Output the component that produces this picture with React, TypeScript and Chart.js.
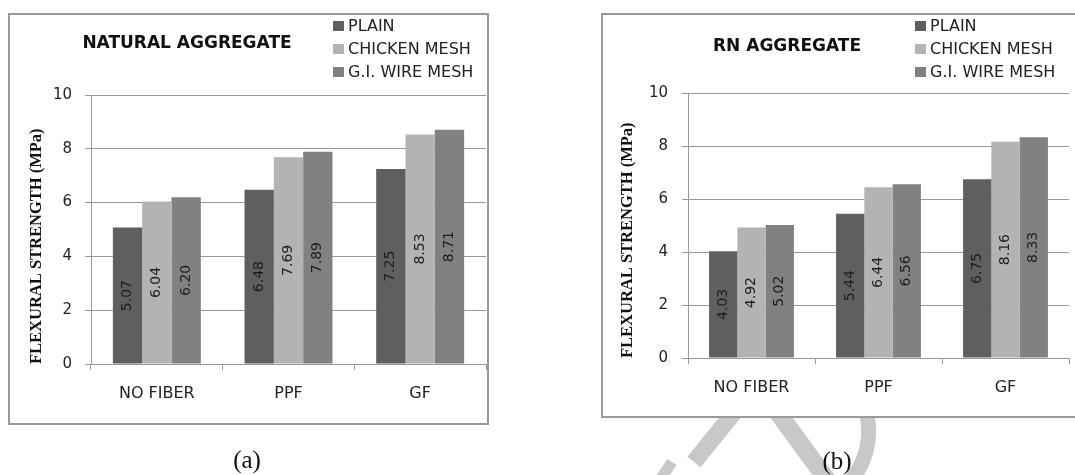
import React, { useEffect, useRef } from "react";
import { Chart, registerables } from "chart.js";

Chart.register(...registerables);

// ---------- data ----------
const categories = ["NO FIBER", "PPF", "GF"];
const seriesNames = ["PLAIN", "CHICKEN MESH", "G.I. WIRE MESH"];
const seriesColors = ["#5f5f5f", "#b3b3b3", "#818181"];

const naturalPlain = [5.07, 6.48, 7.25];
const naturalChicken = [6.04, 7.69, 8.53];
const naturalGI = [6.2, 7.89, 8.71];

const rnPlain = [4.03, 5.44, 6.75];
const rnChicken = [4.92, 6.44, 8.16];
const rnGI = [5.02, 6.56, 8.33];

const yMin = 0;
const yMax = 10;
const yStep = 2;

const yAxisTitle = "FLEXURAL STRENGTH (MPa)";

// ---------- plugin: title, legend, value labels ----------
const decorPlugin = {
  id: "decor",
  afterDatasetsDraw(chart: any) {
    const ctx = chart.ctx as CanvasRenderingContext2D;
    ctx.save();
    ctx.font = '14px "DejaVu Sans"';
    ctx.fillStyle = "#1e1e1e";
    ctx.textAlign = "center";
    ctx.textBaseline = "middle";
    chart.data.datasets.forEach((ds: any, i: number) => {
      const meta = chart.getDatasetMeta(i);
      meta.data.forEach((bar: any, j: number) => {
        const v = ds.data[j] as number;
        const p = bar.getProps(["x", "y", "base"], true);
        ctx.save();
        ctx.translate(p.x, (p.y + p.base) / 2);
        ctx.rotate(-Math.PI / 2);
        ctx.fillText(v.toFixed(2), 0, 0);
        ctx.restore();
      });
    });
    ctx.restore();
  },
  afterDraw(chart: any, _args: any, opts: any) {
    const ctx = chart.ctx as CanvasRenderingContext2D;
    ctx.save();
    ctx.font = 'bold 17px "DejaVu Sans"';
    ctx.fillStyle = "#111111";
    ctx.textAlign = "center";
    ctx.textBaseline = "middle";
    ctx.fillText(opts.title, opts.titleX, opts.titleY);
    ctx.font = '16px "DejaVu Sans"';
    ctx.textAlign = "left";
    chart.data.datasets.forEach((ds: any, i: number) => {
      const y = opts.legendY0 + i * opts.legendGap;
      ctx.fillStyle = ds.backgroundColor;
      ctx.fillRect(opts.legendX, y - 5, 11, 10);
      ctx.fillStyle = "#222222";
      ctx.fillText(ds.label, opts.legendX + 15, y + 1);
    });
    ctx.restore();
  },
};

type Geom = {
  top: number;
  right: number;
  yw: number;
  xh: number;
  yTickLen: number;
  yPad: number;
  yTitlePad: number;
  xPad: number;
  title: string;
  titleX: number;
  titleY: number;
  legendX: number;
  legendY0: number;
  legendGap: number;
};

function makeConfig(values: number[][], g: Geom): any {
  return {
    type: "bar",
    data: {
      labels: categories,
      datasets: seriesNames.map((name, i) => ({
        label: name,
        data: values[i],
        backgroundColor: seriesColors[i],
        borderWidth: 0,
        categoryPercentage: 0.668,
        barPercentage: 1,
      })),
    },
    options: {
      animation: false,
      responsive: false,
      maintainAspectRatio: false,
      layout: { padding: { left: 0, top: g.top, right: g.right, bottom: 0 } },
      plugins: {
        legend: { display: false },
        title: { display: false },
        tooltip: { enabled: false },
        decor: {
          title: g.title,
          titleX: g.titleX,
          titleY: g.titleY,
          legendX: g.legendX,
          legendY0: g.legendY0,
          legendGap: g.legendGap,
        },
      },
      scales: {
        x: {
          grid: {
            display: true,
            drawOnChartArea: false,
            drawTicks: true,
            tickLength: 6,
            color: "#9a9a9a",
            offset: true,
          },
          border: { display: true, color: "#9a9a9a" },
          ticks: {
            font: { family: "DejaVu Sans", size: 16 },
            color: "#222222",
            padding: g.xPad,
            maxRotation: 0,
          },
          afterFit: (s: any) => {
            s.height = g.xh;
          },
        },
        y: {
          min: yMin,
          max: yMax,
          ticks: {
            stepSize: yStep,
            font: { family: "DejaVu Sans", size: 15 },
            color: "#222222",
            padding: g.yPad,
          },
          grid: { color: "#9a9a9a", tickLength: g.yTickLen },
          border: { display: true, color: "#9a9a9a" },
          title: {
            display: true,
            text: yAxisTitle,
            align: "start",
            color: "#111111",
            font: { family: "Liberation Serif", size: 16.5, weight: "bold" },
            padding: { top: g.yTitlePad, bottom: 0 },
          },
          afterFit: (s: any) => {
            s.width = g.yw;
          },
        },
      },
    },
    plugins: [decorPlugin],
  };
}

const leftGeom: Geom = {
  top: 80,
  right: 1,
  yw: 81,
  xh: 59,
  yTickLen: 6,
  yPad: 13,
  yTitlePad: 17,
  xPad: 14,
  title: "NATURAL AGGREGATE",
  titleX: 177,
  titleY: 29,
  legendX: 323,
  legendY0: 11,
  legendGap: 23,
};

const rightGeom: Geom = {
  top: 78,
  right: 19,
  yw: 85,
  xh: 58,
  yTickLen: 6,
  yPad: 14,
  yTitlePad: 15,
  xPad: 14,
  title: "RN AGGREGATE",
  titleX: 184,
  titleY: 32,
  legendX: 312,
  legendY0: 11,
  legendGap: 23,
};

export default function App() {
  const leftRef = useRef<HTMLCanvasElement>(null);
  const rightRef = useRef<HTMLCanvasElement>(null);
  const wmRef = useRef<HTMLCanvasElement>(null);

  useEffect(() => {
    const c1 = new Chart(
      leftRef.current as HTMLCanvasElement,
      makeConfig([naturalPlain, naturalChicken, naturalGI], leftGeom)
    );
    const c2 = new Chart(
      rightRef.current as HTMLCanvasElement,
      makeConfig([rnPlain, rnChicken, rnGI], rightGeom)
    );
    const wm = wmRef.current;
    if (wm) {
      const ctx = wm.getContext("2d") as CanvasRenderingContext2D;
      ctx.clearRect(0, 0, wm.width, wm.height);
      ctx.strokeStyle = "#c8c8c8";
      ctx.lineCap = "butt";
      ctx.lineWidth = 17;
      ctx.beginPath();
      ctx.moveTo(736, 410);
      ctx.lineTo(694, 462);
      ctx.stroke();
      ctx.lineWidth = 11;
      ctx.beginPath();
      ctx.moveTo(672, 462);
      ctx.lineTo(660, 480);
      ctx.stroke();
      ctx.lineWidth = 18;
      ctx.beginPath();
      ctx.moveTo(776, 410);
      ctx.lineTo(830, 484);
      ctx.stroke();
      ctx.lineWidth = 15;
      ctx.beginPath();
      ctx.moveTo(866, 410);
      ctx.quadraticCurveTo(876, 452, 848, 484);
      ctx.stroke();
    }
    return () => {
      c1.destroy();
      c2.destroy();
    };
  }, []);

  const caption: React.CSSProperties = {
    position: "absolute",
    transform: "translate(-50%, -50%)",
    fontFamily: '"Liberation Serif", serif',
    fontSize: 25,
    lineHeight: 1,
    color: "#111",
    whiteSpace: "nowrap",
  };

  return (
    <div
      style={{
        position: "fixed",
        left: 0,
        top: 0,
        width: 1075,
        height: 475,
        overflow: "hidden",
        background: "#ffffff",
      }}
    >
      <canvas
        ref={wmRef}
        width={1075}
        height={475}
        style={{ position: "absolute", left: 0, top: 0 }}
      />
      <div
        style={{
          position: "absolute",
          left: 8,
          top: 13,
          width: 481,
          height: 412,
          border: "2px solid #9a9a9a",
          boxSizing: "border-box",
          background: "#ffffff",
        }}
      >
        <canvas ref={leftRef} width={477} height={408} style={{ display: "block" }} />
      </div>
      <div
        style={{
          position: "absolute",
          left: 601,
          top: 13,
          width: 489,
          height: 405,
          border: "2px solid #9a9a9a",
          boxSizing: "border-box",
          background: "#ffffff",
        }}
      >
        <canvas ref={rightRef} width={485} height={401} style={{ display: "block" }} />
      </div>
      <div style={{ ...caption, left: 247, top: 459 }}>(a)</div>
      <div style={{ ...caption, left: 837, top: 460 }}>(b)</div>
    </div>
  );
}
